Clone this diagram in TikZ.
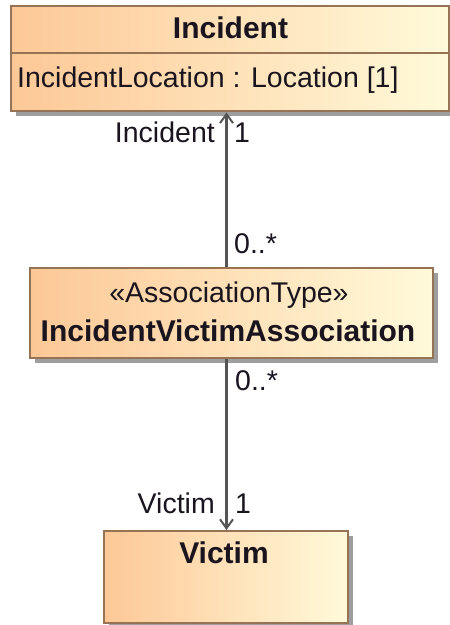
\documentclass[tikz,border=0pt]{standalone}
\usepackage{fontspec}
\setmainfont{Liberation Sans}
\usetikzlibrary{arrows.meta,shadows}
\definecolor{boxL}{RGB}{253,200,150}
\definecolor{boxR}{RGB}{255,250,218}
\definecolor{boxB}{RGB}{150,115,85}
\definecolor{lineC}{RGB}{85,85,85}
\definecolor{txt}{RGB}{25,20,30}
\tikzset{
  classbox/.style={draw=boxB, line width=2.4pt, left color=boxL, right color=boxR,
    rectangle, inner sep=0pt, anchor=north west,
    drop shadow={shadow xshift=5pt, shadow yshift=-5pt, fill=black!38, opacity=1}},
  reg/.style={font=\fontsize{28.5}{34}\selectfont, text=txt, inner sep=0pt},
  bld/.style={font=\fontsize{30}{36}\selectfont\bfseries, text=txt, inner sep=0pt},
  assoc/.style={draw=lineC, line width=2.4pt},
  tipc/.style={-{Straight Barb[length=9pt,width=13pt,line width=2pt]}}
}
\begin{document}
\begin{tikzpicture}[x=1pt,y=-1pt]
\useasboundingbox (0,0) rectangle (450,625);
% boxes
\node[classbox, minimum width=438pt, minimum height=105pt] (inc) at (10,5) {};
\node[classbox, minimum width=403pt, minimum height=90pt] (as) at (29,267) {};
\node[classbox, minimum width=244pt, minimum height=92pt] (vic) at (103,530) {};
\draw[draw=boxB, line width=2pt] (inc.west |- 0,53) -- (inc.east |- 0,53);
% texts
\node[bld, anchor=base] (incT) at (230.5,38) {Incident};
\node[reg, anchor=base west] (incA) at (17,87) {IncidentLocation : Location [1]};
\node[reg, anchor=base] (asS) at (229,302) {«AssociationType»};
\node[bld, anchor=base] (asN) at (228,341) {IncidentVictimAssociation};
\node[bld, anchor=base] (vicT) at (224,563) {Victim};
% connectors
\coordinate (lx) at (226.5,0);
\draw[assoc, tipc] (as.north -| lx) -- (inc.south -| lx);
\draw[assoc, tipc] (as.south -| lx) -- (vic.north -| lx);
% labels
\node[reg, anchor=base east] (l1) at (215,142) {Incident};
\node[reg, anchor=base west] (l2) at (234,142) {1};
\node[reg, anchor=base west] (l3) at (234,253) {0..*};
\node[reg, anchor=base west] (l4) at (235,390) {0..*};
\node[reg, anchor=base east] (l5) at (215,513) {Victim};
\node[reg, anchor=base west] (l6) at (235,513) {1};
\end{tikzpicture}
\end{document}
